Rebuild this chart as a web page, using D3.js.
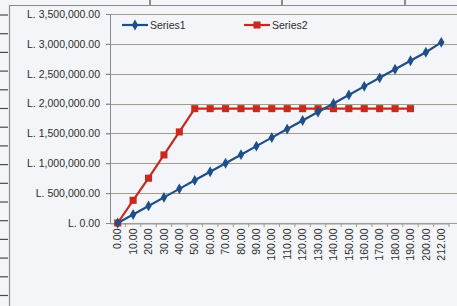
<!doctype html>
<meta charset="utf8">
<style>
  html, body { margin: 0; padding: 0; background: #f2f4f7; }
  svg { display: block; }
  text { font-family: "Liberation Sans", Arial, sans-serif; fill: #2e2e2e; }
</style>
<body>
<div id="chart"></div>

<script src="https://d3js.org/d3.v7.min.js"></script>
<script>
(function() {

const categories = ["0.00", "10.00", "20.00", "30.00", "40.00", "50.00", "60.00", "70.00",
  "80.00", "90.00", "100.00", "110.00", "120.00", "130.00", "140.00", "150.00", "160.00",
  "170.00", "180.00", "190.00", "200.00", "212.00"];

const series1 = [0, 143000, 286000, 429000, 572000, 715000, 858000, 1001000, 1144000,
  1287000, 1430000, 1573000, 1716000, 1859000, 2002000, 2145000, 2288000, 2431000,
  2574000, 2717000, 2860000, 3025000];

// Series2 stops at 190.00
const series2 = [0, 380000, 750000, 1140000, 1525000, 1915000, 1915000, 1915000, 1915000,
  1915000, 1915000, 1915000, 1915000, 1915000, 1915000, 1915000, 1915000, 1915000,
  1915000, 1915000];

const yTicks = [0, 500000, 1000000, 1500000, 2000000, 2500000, 3000000, 3500000];

const seriesNames = ["Series1", "Series2"];
const COLORS = {Series1: "#1f4f88", Series2: "#c9291f"};

const W = 457, H = 306;
const plot = {left: 110, right: 449, top: 14, bottom: 223};

const svg = d3.select("#chart").append("svg")
  .attr("width", W)
  .attr("height", H);

svg.append("rect")
  .attr("width", W).attr("height", H)
  .attr("fill", "#f3f5f8");

// sheet cell lines around the chart
const sheet = svg.append("g").attr("stroke", "#4a4a4a").attr("stroke-width", 1.2);
for (const yy of d3.range(15, 300, 18.7)) {
  sheet.append("line").attr("x1", 0).attr("x2", 8).attr("y1", yy).attr("y2", yy);
}
for (const xx of [150, 282, 405]) {
  sheet.append("line").attr("x1", xx).attr("x2", xx).attr("y1", 0).attr("y2", 5);
}

// chart border
svg.append("path")
  .attr("d", `M9.5,${H}V5.5H${W}`)
  .attr("fill", "none")
  .attr("stroke", "#8c8c8c")
  .attr("stroke-width", 1.2);

const x = d3.scaleBand()
  .domain(categories)
  .range([plot.left, plot.right]);

const y = d3.scaleLinear()
  .domain([0, 3500000])
  .range([plot.bottom, plot.top]);

const fmt = v => "L. " + d3.format(",.2f")(v);

// gridlines
svg.append("g")
  .selectAll("line")
  .data(yTicks)
  .join("line")
    .attr("x1", plot.left - 4)
    .attr("x2", W)
    .attr("y1", d => Math.round(y(d)) + 0.5)
    .attr("y2", d => Math.round(y(d)) + 0.5)
    .attr("stroke", "#a39c8c")
    .attr("stroke-width", 1);

// y axis
const yAxis = svg.append("g")
  .attr("transform", `translate(${plot.left},0)`)
  .call(d3.axisLeft(y).tickValues(yTicks).tickFormat(fmt).tickSize(4).tickPadding(6));
yAxis.select(".domain").attr("stroke", "#8a8a8a");
yAxis.selectAll(".tick line").attr("stroke", "#8a8a8a");
yAxis.selectAll("text")
  .style("font-size", "10.5px")
  .attr("fill", "#333");

// x axis
const xAxis = svg.append("g")
  .attr("transform", `translate(0,${Math.round(plot.bottom) + 0.5})`)
  .call(d3.axisBottom(x).tickSize(0).tickPadding(0));
xAxis.select(".domain").attr("stroke", "#a39c8c");
xAxis.selectAll("text")
  .style("font-size", "10.5px")
  .attr("fill", "#333")
  .attr("text-anchor", "end")
  .attr("dy", "0.35em")
  .attr("transform", "translate(0,5) rotate(-90)");

// tick marks between categories
svg.append("g")
  .selectAll("line")
  .data(categories)
  .join("line")
    .attr("x1", d => x(d) + x.bandwidth())
    .attr("x2", d => x(d) + x.bandwidth())
    .attr("y1", plot.bottom)
    .attr("y2", plot.bottom + 4)
    .attr("stroke", "#a39c8c");

const cx = i => x(categories[i]) + x.bandwidth() / 2;

const line = d3.line()
  .x((d, i) => cx(i))
  .y(d => y(d));

const data = [
  {name: "Series1", values: series1},
  {name: "Series2", values: series2},
];

// draw Series2 first so Series1 sits on top at the crossing
for (const s of [data[1], data[0]]) {
  const g = svg.append("g");
  g.append("path")
    .datum(s.values)
    .attr("d", line)
    .attr("fill", "none")
    .attr("stroke", COLORS[s.name])
    .attr("stroke-width", 2.2);
  g.selectAll("path.m")
    .data(s.values)
    .join("path")
      .attr("class", "m")
      .attr("transform", (d, i) => `translate(${cx(i)},${y(d)})`)
      .attr("d", s.name === "Series1"
        ? d3.symbol(d3.symbolDiamond, 34)
        : d3.symbol(d3.symbolSquare, 50))
      .attr("fill", COLORS[s.name]);
}

// legend
const legendX = [122, 244];
const legend = svg.append("g")
  .selectAll("g")
  .data(seriesNames)
  .join("g")
    .attr("transform", (d, i) => `translate(${legendX[i]},25)`);
legend.append("line")
  .attr("x1", 0).attr("x2", 26)
  .attr("stroke", d => COLORS[d])
  .attr("stroke-width", 2.2);
legend.append("path")
  .attr("transform", "translate(13,0)")
  .attr("d", d => d === "Series1"
    ? d3.symbol(d3.symbolDiamond, 34)()
    : d3.symbol(d3.symbolSquare, 50)())
  .attr("fill", d => COLORS[d]);
legend.append("text")
  .attr("x", 28)
  .attr("dy", "0.35em")
  .style("font-size", "10.5px")
  .attr("fill", "#333")
  .text(d => d);

})();
</script>
</body>
